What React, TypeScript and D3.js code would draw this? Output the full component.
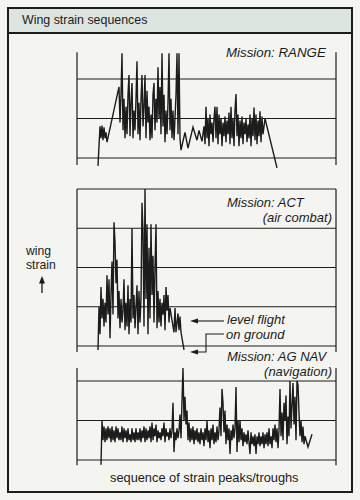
import React from "react";
import * as d3 from "d3";

const W = 360;
const H = 500;

// sequence index, strain level (grid units)
const rangeData: [number, number][] = [
  [21, -0.2], [23, 0.8], [24, 0.5], [25, 0.82], [26, 0.45], [27, 0.78], [28, 0.5], [29, 0.65], [30, 0.4],
  [42, 1.8], [43, 0.9], [44, 1.6], [45, 2.65], [46, 0.7], [47, 1.5], [48, 0.5], [49, 1.3], [50, 0.6],
  [51, 1.6], [52, 2.1], [53, 0.55], [54, 1.4], [55, 1.9], [56, 0.5], [57, 1.2], [58, 0.7], [59, 1.5],
  [60, 2.45], [61, 0.6], [62, 1.4], [63, 0.45], [64, 1.5], [65, 2.1], [66, 0.8], [67, 1.3], [68, 2.1],
  [69, 0.5], [70, 1.7], [71, 0.9], [72, 1.3], [73, 0.45], [74, 1.1], [75, 0.5], [76, 1.6], [77, 1.9],
  [78, 0.7], [79, 1.5], [80, 0.9], [81, 2.3], [82, 1.0], [83, 1.8], [84, 0.6], [85, 2.65], [86, 0.8],
  [87, 1.6], [88, 0.4], [89, 1.2], [90, 0.6], [91, 1.4], [92, 2.65], [93, 0.7], [94, 1.5], [95, 0.5],
  [96, 1.2], [97, 0.45], [98, 1.0], [99, 1.6], [100, 2.65], [101, 0.6], [102, 2.65], [103, 0.5],
  [104, 0.2], [108, 0.65], [111, 0.25], [116, 0.78], [120, 0.45], [122, 0.7], [125, 0.42], [127, 0.8],
  [128, 0.35], [129, 1.3], [130, 0.5], [131, 1.0], [132, 0.3], [133, 1.1], [134, 0.6], [135, 0.9],
  [136, 0.4], [137, 1.0], [138, 1.3], [139, 0.5], [140, 1.3], [141, 0.35], [142, 1.1], [143, 0.6],
  [144, 1.0], [145, 0.3], [146, 0.9], [147, 0.55], [148, 1.05], [149, 0.4], [150, 0.95], [151, 0.6],
  [152, 1.15], [153, 0.35], [154, 1.3], [155, 0.5], [156, 1.0], [157, 0.3], [158, 1.2], [159, 1.62],
  [160, 0.55], [161, 1.1], [162, 0.3], [163, 0.95], [164, 0.5], [165, 1.05], [166, 0.35], [167, 0.9],
  [168, 0.6], [169, 1.0], [170, 0.4], [171, 0.85], [172, 0.5], [173, 1.1], [174, 0.3], [175, 1.0],
  [176, 0.55], [177, 1.28], [178, 0.45], [179, 1.1], [180, 0.35], [181, 0.95], [182, 0.55], [183, 1.18],
  [184, 0.4], [185, 1.05], [186, 0.6], [188, 1.0], [200, -0.25],
];

const actData: [number, number][] = [
  [21, -0.1], [22, 1.0], [23, 0.3], [24, 1.5], [25, 0.7], [26, 1.2], [27, 0.5], [28, 1.1], [29, 0.6],
  [30, 1.8], [31, 0.8], [32, 1.7], [33, 0.2], [34, 1.3], [35, 2.15], [36, 0.8], [37, 3.15], [38, 2.65],
  [39, 1.6], [40, 2.2], [41, 0.7], [42, 1.4], [43, 0.45], [44, 1.2], [45, 0.6], [46, 0.9], [47, 1.7],
  [48, 0.4], [49, 1.1], [50, 0.5], [51, 1.55], [52, 0.3], [53, 1.2], [54, 0.6], [55, 3.0], [56, 0.7],
  [57, 1.3], [58, 0.45], [59, 1.0], [60, 1.55], [61, 0.3], [62, 1.4], [63, 0.6], [64, 1.2], [65, 3.65],
  [66, 2.9], [67, 0.5], [68, 4.0], [69, 1.2], [70, 3.1], [71, 0.3], [72, 2.5], [73, 0.7], [74, 3.1],
  [75, 1.3], [76, 2.3], [77, 0.6], [78, 2.0], [79, 3.1], [80, 0.45], [81, 1.4], [82, 0.6], [83, 1.2],
  [84, 0.5], [85, 1.1], [86, 0.8], [87, 1.3], [88, 0.4], [89, 1.5], [90, 0.9], [91, 1.3], [92, 0.6],
  [93, 0.97], [97, 0.35], [98, 0.97], [99, 0.35], [101, 0.83], [102, 0.4], [103, 0.75], [104, 0.35],
  [107, -0.1],
];

const navData: [number, number][] = [
  [24, -0.12], [25, 1.0], [26, 0.5], [27, 0.85], [28, 0.45], [29, 0.8], [30, 0.5], [31, 0.85], [32, 0.55],
  [33, 0.8], [34, 0.45], [35, 0.85], [36, 0.5], [37, 0.75], [38, 0.45], [39, 0.85], [40, 0.55], [41, 0.8],
  [42, 0.5], [43, 0.7], [44, 0.5], [45, 0.85], [46, 0.45], [47, 0.8], [48, 0.55], [49, 0.75], [50, 0.45],
  [51, 0.8], [52, 0.5], [53, 0.65], [54, 0.45], [55, 0.8], [56, 0.5], [57, 0.7], [58, 0.45], [59, 0.8],
  [60, 0.5], [61, 0.7], [62, 0.5], [63, 0.8], [64, 0.45], [65, 0.75], [66, 0.55], [67, 0.85], [68, 0.45],
  [69, 0.8], [70, 0.5], [71, 0.75], [72, 0.55], [73, 0.85], [74, 0.45], [75, 0.95], [76, 0.5], [77, 0.8],
  [78, 0.6], [79, 0.9], [80, 0.45], [81, 0.75], [82, 0.55], [83, 0.7], [84, 0.5], [85, 0.8], [86, 0.6],
  [87, 0.95], [88, 0.45], [89, 0.8], [90, 0.6], [91, 0.7], [92, 0.5], [93, 0.8], [94, 0.55], [95, 0.75],
  [96, 1.45], [97, 0.2], [98, 0.7], [99, 0.5], [100, 0.8], [101, 0.55], [102, 0.75], [103, 1.15],
  [104, 0.55], [105, 1.5], [106, 2.33], [107, 1.0], [108, 1.6], [109, 0.9], [110, 1.25], [111, 0.5],
  [112, 0.95], [113, 0.45], [114, 0.8], [115, 0.5], [116, 0.85], [117, 0.4], [118, 0.75], [119, 0.5],
  [120, 0.8], [121, 0.45], [122, 0.7], [123, 0.4], [124, 0.8], [125, 0.5], [126, 0.7], [127, 0.35],
  [128, 0.8], [129, 0.5], [130, 1.0], [131, 0.45], [132, 0.75], [133, 0.3], [134, 0.8], [135, 0.5],
  [136, 0.9], [137, 0.4], [138, 0.7], [139, 0.45], [140, 0.85], [141, 0.5], [142, 0.75], [143, 1.33],
  [144, 0.6], [145, 1.8], [146, 1.45], [147, 0.7], [148, 1.25], [149, 0.4], [150, 0.9], [151, 0.5],
  [152, 0.8], [153, 0.15], [154, 0.75], [155, 0.5], [156, 0.9], [157, 0.55], [158, 0.8], [159, 1.85],
  [160, 0.2], [161, 1.0], [162, 0.45], [163, 1.0], [164, 0.5], [165, 0.8], [166, 0.35], [167, 0.7],
  [168, 0.45], [169, 0.65], [170, 0.4], [171, 0.75], [172, 0.45], [173, 0.15], [174, 0.7], [175, 0.4],
  [176, 0.6], [177, 0.35], [178, 0.65], [179, 0.15], [180, 0.6], [181, 0.4], [182, 0.7], [183, 0.35],
  [184, 0.6], [185, 0.4], [186, 0.7], [187, 0.3], [188, 0.65], [189, 0.4], [190, 0.7], [191, 0.35],
  [192, 0.8], [193, 0.4], [194, 0.6], [195, 0.3], [196, 0.8], [197, 0.5], [198, 0.9], [199, 0.45],
  [200, 0.8], [201, 0.3], [202, 0.75], [203, 1.8], [204, 0.6], [205, 1.2], [206, 0.5], [207, 1.45],
  [208, 1.0], [209, 1.63], [210, 0.4], [211, 1.1], [212, 0.6], [213, 2.0], [214, 0.8], [215, 1.4],
  [216, 1.95], [217, 0.9], [218, 1.6], [219, 0.5], [220, 2.0], [221, 1.9], [222, 1.2], [223, 0.6],
  [224, 1.0], [225, 0.45], [226, 0.85], [227, 0.4], [228, 0.6], [231, 0.33], [235, 0.65],
];

const rangeGrid = [0, 1, 2];
const actGrid = [0, 1, 2, 3, 4];
const navGrid = [0, 1, 2];

const titleText = "Wing strain sequences";
const xLabel = "sequence of strain peaks/troughs";
const yLabel = ["wing", "strain"];

const INK = "#1c1c1c";
const FONT = "'Liberation Sans', Arial, sans-serif";

const x = d3.scaleLinear().domain([0, 259]).range([77, 336]);

type PanelProps = {
  data: [number, number][];
  grid: number[];
  y: d3.ScaleLinear<number, number>;
  vTop: number;
  vBottom: number;
};

function Panel({ data, grid, y, vTop, vBottom }: PanelProps) {
  const line = d3
    .line<[number, number]>()
    .x((d) => x(d[0]))
    .y((d) => y(d[1]));
  const [x0, x1] = x.range();
  return (
    <g>
      {grid.map((g) => (
        <line key={g} x1={x0} x2={x1} y1={y(g)} y2={y(g)} stroke={INK} strokeWidth={1.2} />
      ))}
      <line x1={x0} x2={x0} y1={y(vTop)} y2={y(vBottom)} stroke={INK} strokeWidth={1.2} />
      <line x1={x1} x2={x1} y1={y(vTop)} y2={y(vBottom)} stroke={INK} strokeWidth={1.2} />
      <path d={line(data) || ""} fill="none" stroke={INK} strokeWidth={1.4} strokeLinejoin="miter" strokeMiterlimit={4} />
    </g>
  );
}

export default function App() {
  const yRange = d3.scaleLinear().domain([0, 2]).range([158, 79]);
  const yAct = d3.scaleLinear().domain([0, 4]).range([346, 189]);
  const yNav = d3.scaleLinear().domain([0, 2]).range([460, 381]);

  const it = { fontFamily: FONT, fontStyle: "italic", fontSize: 13, fill: INK } as const;
  const up = { fontFamily: FONT, fontSize: 12.8, fill: INK } as const;

  return (
    <svg width={W} height={H} style={{ position: "absolute", left: 0, top: 0 }}>
      <rect x={0} y={0} width={W} height={H} fill="#f4f4f0" />
      <rect x={8} y={8} width={344} height={25} fill="#dde5e1" />
      <rect x={8} y={8} width={344} height={484} fill="none" stroke={INK} strokeWidth={2} />
      <line x1={8} x2={352} y1={33} y2={33} stroke={INK} strokeWidth={2} />
      <text x={22} y={24} {...up} fontSize={12.4}>{titleText}</text>

      <Panel data={rangeData} grid={rangeGrid} y={yRange} vTop={2.68} vBottom={-0.18} />
      <Panel data={actData} grid={actGrid} y={yAct} vTop={4} vBottom={-0.15} />
      <Panel data={navData} grid={navGrid} y={yNav} vTop={2.33} vBottom={-0.13} />

      <text x={226} y={57} {...it} fontSize={13.3}>Mission: RANGE</text>
      <text x={227} y={207} {...it}>Mission: ACT</text>
      <text x={332} y={221.5} {...it} textAnchor="end">(air combat)</text>
      <text x={227} y={361} {...it}>Mission: AG NAV</text>
      <text x={332} y={376} {...it} textAnchor="end">(navigation)</text>

      <text x={227} y={324} {...it}>level flight</text>
      <text x={226} y={338.5} {...it}>on ground</text>
      <line x1={224} x2={197} y1={321} y2={321} stroke={INK} strokeWidth={1.1} />
      <path d="M190,321 L198,318.5 L198,323.5 Z" fill={INK} />
      <polyline points="224,334 206,334 206,352 197,352" fill="none" stroke={INK} strokeWidth={1.1} />
      <path d="M190,352 L198,349.5 L198,354.5 Z" fill={INK} />

      <text x={26} y={254.5} {...up} fontSize={12.2}>{yLabel[0]}</text>
      <text x={26} y={268.5} {...up} fontSize={12.2}>{yLabel[1]}</text>
      <line x1={42} x2={42} y1={293} y2={282} stroke={INK} strokeWidth={1.3} />
      <path d="M42,276 L45,283.5 L39,283.5 Z" fill={INK} />

      <text x={110} y={482} {...up}>{xLabel}</text>
    </svg>
  );
}
